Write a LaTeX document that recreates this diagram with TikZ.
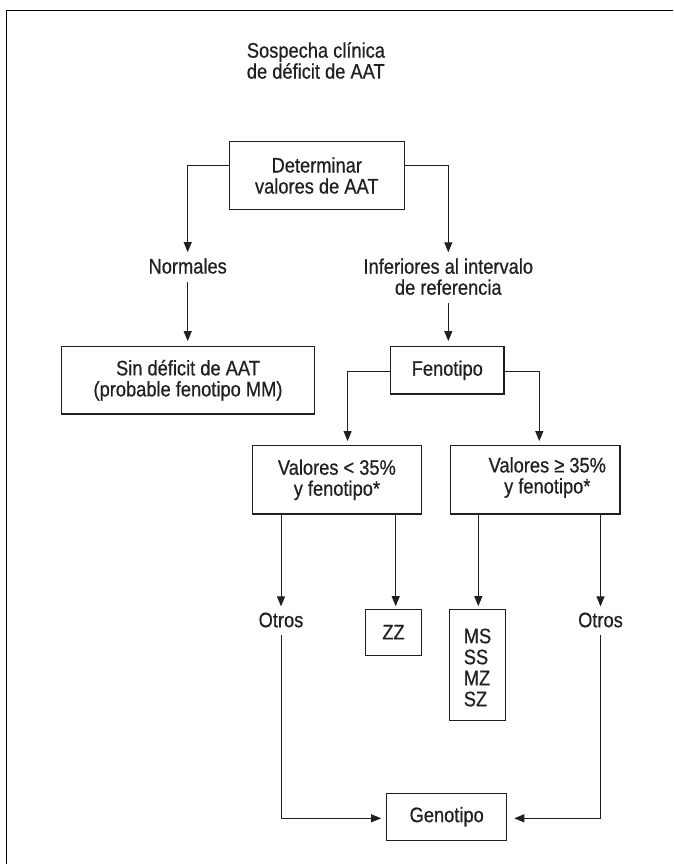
\documentclass[tikz,border=0pt]{standalone}
\usepackage{fontspec}
\setmainfont{Liberation Sans}[FakeStretch=0.87,FakeBold=0.6]
\usetikzlibrary{arrows.meta}
\definecolor{ink}{RGB}{35,31,32}
\begin{document}
\begin{tikzpicture}[x=1pt,y=-1pt,
  every node/.style={font=\fontsize{21pt}{21pt}\selectfont, text=ink},
  box/.style={draw=ink, line width=1.1pt, inner sep=0pt, align=center},
  lbl/.style={inner sep=0pt, align=center},
  link/.style={draw=ink, line width=1pt},
  arr/.style={link, -{Triangle[length=10pt,width=8pt]}}]
\useasboundingbox (0,0) rectangle (673,864);
% open frame: top and left rules
\draw[line width=1.5pt, black] (673,10.7) -- (6.7,10.7) -- (6.7,864);

% heading
\node[lbl, align=left, anchor=west] (sosp) at (246.7,60.5)
  {Sospecha clínica\\de déficit de AAT};

% first level
\node[box, minimum width=175pt, minimum height=67.6pt] (det) at (316.8,175.5)
  {Determinar\\valores de AAT};
\node[lbl] (norm) at (187.7,266) {Normales};
\node[lbl] (inf) at (448.3,276.7) {Inferiores al intervalo\\de referencia};

\node[box, minimum width=252.6pt, minimum height=67.3pt] (sin) at (188,380.3)
  {Sin déficit de AAT\\(probable fenotipo MM)};
\node[box, minimum width=113.3pt, minimum height=47.3pt] (feno) at (447.3,370.3)
  {Fenotipo};

% phenotype split
\node[box, minimum width=169.2pt, minimum height=68.3pt] (vl) at (336.9,479.8)
  {Valores < 35\%\\y fenotipo*};
\node[box, minimum width=169.3pt, minimum height=68.3pt] (vg) at (535.3,479.8) {};
\node[lbl] (vgt) at (547.3,477.5) {Valores ≥ 35\%\\y fenotipo*};

% outcomes
\node[lbl] (ol) at (281,620) {Otros};
\node[box, minimum width=56.4pt, minimum height=46.3pt] (zz) at (393.5,632.2) {ZZ};
\node[box, minimum width=55.6pt, minimum height=111.7pt] (ms) at (477.6,664.9) {};
\node[lbl, align=left] (mst) at (477.5,667.5) {MS\\SS\\MZ\\SZ};
\node[lbl] (or) at (600.5,620) {Otros};
\node[box, minimum width=120pt, minimum height=46.7pt] (geno) at (446.7,816.7) {Genotipo};

% connectors
\draw[arr, shorten >=6pt] ([yshift=10.5pt]det.west) -| (norm.north);
\draw[arr, shorten >=6pt] ([yshift=10.5pt]det.east) -| (inf.north);
\draw[arr, shorten <=8pt, shorten >=5pt] (norm.south) -- (norm.south |- sin.north);
\draw[arr, shorten <=8pt, shorten >=5pt] (inf.south) -- (inf.south |- feno.north);
\draw[arr, shorten >=4pt] ([yshift=-1.4pt]feno.west) -| ([xshift=10.7pt]vl.north);
\draw[arr, shorten >=4pt] ([yshift=-1.4pt]feno.east) -| ([xshift=4pt]vg.north);
\draw[arr, shorten >=6pt] (vl.south -| ol.north) -- (ol.north);
\draw[arr, shorten >=2.3pt] ([xshift=2.2pt]vl.south -| zz.north) -- ([xshift=2.2pt]zz.north);
\draw[arr, shorten >=2.3pt] ([xshift=0.7pt]vg.south -| ms.north) -- ([xshift=0.7pt]ms.north);
\draw[arr, shorten >=6pt] (vg.south -| or.north) -- (or.north);
\draw[arr, shorten <=7pt, shorten >=5pt] (ol.south) |- ([yshift=-1.6pt]geno.west);
\draw[arr, shorten <=7pt, shorten >=7pt] (or.south) |- ([yshift=-1.6pt]geno.east);
\end{tikzpicture}
\end{document}
